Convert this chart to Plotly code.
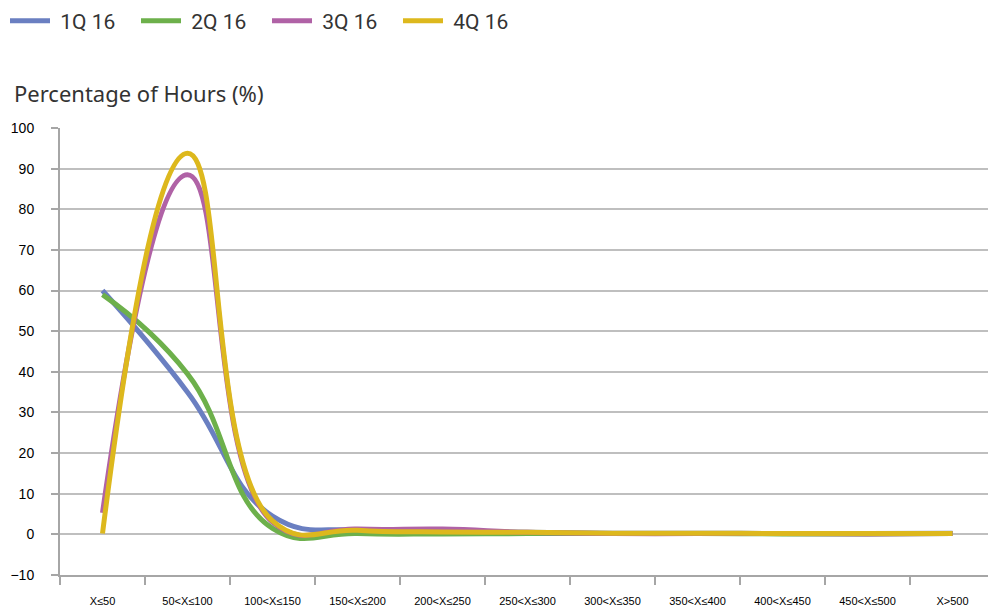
import plotly.graph_objects as go

# Hourly price bands
categories = ["X≤50", "50<X≤100", "100<X≤150", "150<X≤200", "200<X≤250",
              "250<X≤300", "300<X≤350", "350<X≤400", "400<X≤450", "450<X≤500", "X>500"]

# Percentage of hours per band, by quarter
q1_16 = [60, 35, 4.5, 1.0, 0.8, 0.5, 0.3, 0.3, 0.2, 0.2, 0.3]
q2_16 = [59, 39.5, 1.5, 0.2, 0.1, 0.2, 0.2, 0.2, 0.1, 0.1, 0.2]
q3_16 = [5.3, 88.5, 3.0, 1.3, 1.3, 0.5, 0.2, 0.2, 0.2, 0.1, 0.2]
q4_16 = [0.2, 93.8, 3.3, 1.0, 0.6, 0.5, 0.3, 0.3, 0.2, 0.2, 0.2]

series = [
    ("1Q 16", q1_16, "#6A7FC1"),
    ("2Q 16", q2_16, "#6DB04B"),
    ("3Q 16", q3_16, "#B062A6"),
    ("4Q 16", q4_16, "#DDB81D"),
]

y_ticks = list(range(-10, 101, 10))

fig = go.Figure()
for name, vals, color in series:
    fig.add_trace(go.Scatter(
        x=categories, y=vals, name=" " + name, mode="lines",
        line=dict(color=color, width=5, shape="spline", smoothing=1.3),
    ))

W, H = 988, 611
ml, mr, mt, mb = 60, 0, 128, 36
pw = W - ml - mr
ph = H - mt - mb

fig.update_layout(
    width=W, height=H,
    margin=dict(l=ml, r=mr, t=mt, b=mb),
    paper_bgcolor="white", plot_bgcolor="white",
    font=dict(family="Liberation Sans, Arial, sans-serif", color="#000"),
    showlegend=True,
    legend=dict(
        orientation="h", x=(5 - ml) / pw, xanchor="left",
        y=1 + (mt - 0.5) / ph, yanchor="top",
        font=dict(family="Roboto, sans-serif", size=21, color="#333"),
        entrywidth=76, entrywidthmode="pixels",
        itemwidth=40, bgcolor="rgba(0,0,0,0)",
    ),
    xaxis=dict(
        type="category", categoryorder="array", categoryarray=categories,
        range=[-0.5, -0.5 + pw / 85.0],
        tickson="boundaries", ticks="outside", ticklen=8, tickwidth=2,
        tickcolor="#A6A6A6", showline=True, linecolor="#A6A6A6", linewidth=2,
        showgrid=False, zeroline=False,
        tickfont=dict(size=11, color="#000"), ticklabelstandoff=15,
    ),
    yaxis=dict(
        range=[-10, 100], tickvals=y_ticks,
        ticks="outside", ticklen=7, tickwidth=2, tickcolor="#A6A6A6",
        showline=True, linecolor="#A6A6A6", linewidth=2,
        showgrid=True, gridcolor="#BFBFBF", gridwidth=1.5,
        zeroline=False,
        tickfont=dict(size=14, color="#000"), ticklabelstandoff=14,
    ),
)

fig.add_annotation(
    text="Percentage of Hours (%)", xref="paper", yref="paper",
    x=(12 - ml) / pw, y=(H - mb - 93) / ph, xanchor="left", yanchor="middle",
    showarrow=False, font=dict(family="Noto Sans, sans-serif", size=22, color="#333"),
)

fig.write_html("out.html")
